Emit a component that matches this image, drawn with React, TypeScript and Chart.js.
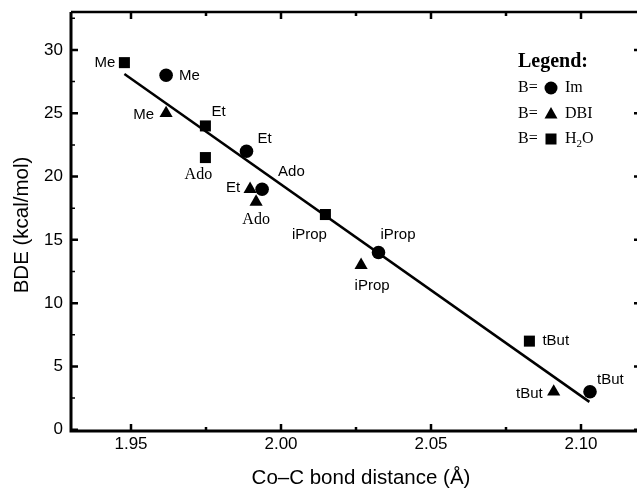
import React, { useEffect, useRef } from 'react';
import { Chart, registerables } from 'chart.js';
Chart.register(...registerables);

// ---- data ----
const pointNames = ['Me', 'Et', 'Ado', 'iProp', 'tBut'];
const imX = [1.9617, 1.9885, 1.9937, 2.0325, 2.103];
const imY = [28, 22, 19, 14, 3];
const dbiX = [1.9617, 1.9897, 1.9917, 2.0267, 2.0909];
const dbiY = [25, 19, 18, 13, 3];
const h2oX = [1.9478, 1.9748, 1.9748, 2.0148, 2.0828];
const h2oY = [29, 24, 21.5, 17, 7];
const fitX = [1.9478, 2.1028];
const fitY = [28.1, 2.2];
const xTicks = [1.95, 2.0, 2.05, 2.1];
const xMinorTicks = [1.975, 2.025, 2.075];
const yTicks = [0, 5, 10, 15, 20, 25, 30];
const yMinorTicks = [2.5, 7.5, 12.5, 17.5, 22.5, 27.5, 32.5];
const xTitle = 'Co–C bond distance (Å)';
const yTitle = 'BDE (kcal/mol)';
const legendTitle = 'Legend:';
const legendPrefix = 'B=';

// ---- label placement (style) ----
type Place = { dx: number; dy: number; align: CanvasTextAlign; serif?: boolean };
const imPlace: Place[] = [
  { dx: 13, dy: 1, align: 'left' },
  { dx: 11, dy: -12, align: 'left' },
  { dx: 16, dy: -17, align: 'left' },
  { dx: 2, dy: -18, align: 'left' },
  { dx: 7, dy: -12, align: 'left' },
];
const dbiPlace: Place[] = [
  { dx: -12, dy: 2, align: 'right' },
  { dx: -10, dy: -1, align: 'right' },
  { dx: 0, dy: 18, align: 'center', serif: true },
  { dx: 11, dy: 21, align: 'center' },
  { dx: -11, dy: 2, align: 'right' },
];
const h2oPlace: Place[] = [
  { dx: -9, dy: 0, align: 'right' },
  { dx: 6, dy: -14, align: 'left' },
  { dx: -7, dy: 17, align: 'center', serif: true },
  { dx: -16, dy: 20, align: 'center' },
  { dx: 13, dy: 0, align: 'left' },
];

const SANS = '"Liberation Sans", Arial, sans-serif';
const SERIF = '"Liberation Serif", "Times New Roman", serif';

const toPts = (xs: number[], ys: number[]) => xs.map((x, i) => ({ x, y: ys[i] }));

const decorPlugin = {
  id: 'decor',
  afterDraw(chart: any) {
    const { ctx, chartArea, scales } = chart;
    const { left, right, top, bottom } = chartArea;
    const xs = scales.x;
    const ys = scales.y;
    ctx.save();
    ctx.strokeStyle = '#000';
    ctx.fillStyle = '#000';
    // frame
    ctx.lineWidth = 3;
    ctx.beginPath();
    ctx.moveTo(left, top);
    ctx.lineTo(left, bottom);
    ctx.lineTo(right, bottom);
    ctx.stroke();
    ctx.lineWidth = 2.5;
    ctx.beginPath();
    ctx.moveTo(left, top);
    ctx.lineTo(right, top);
    ctx.lineTo(right, bottom);
    ctx.stroke();
    // ticks
    ctx.lineWidth = 2.5;
    const vt = (v: number, len: number) => {
      const px = xs.getPixelForValue(v);
      ctx.beginPath();
      ctx.moveTo(px, bottom);
      ctx.lineTo(px, bottom - len);
      ctx.moveTo(px, top);
      ctx.lineTo(px, top + len);
      ctx.stroke();
    };
    const ht = (v: number, len: number) => {
      const py = ys.getPixelForValue(v);
      ctx.beginPath();
      ctx.moveTo(left, py);
      ctx.lineTo(left + len, py);
      ctx.moveTo(right, py);
      ctx.lineTo(right - len, py);
      ctx.stroke();
    };
    xTicks.forEach((v) => vt(v, 7));
    xMinorTicks.forEach((v) => vt(v, 4));
    yTicks.forEach((v) => ht(v, 7));
    ctx.lineWidth = 1.5;
    yMinorTicks.forEach((v) => ht(v, 4));

    // axis titles
    ctx.textBaseline = 'middle';
    ctx.textAlign = 'center';
    ctx.font = `20.5px ${SANS}`;
    ctx.fillText(xTitle, 361, 478);
    ctx.save();
    ctx.translate(22.5, 225);
    ctx.rotate(-Math.PI / 2);
    ctx.fillText(yTitle, 0, 0);
    ctx.restore();

    // point labels
    const drawLabels = (xv: number[], yv: number[], places: Place[]) => {
      xv.forEach((x, i) => {
        const p = places[i];
        const px = xs.getPixelForValue(x) + p.dx;
        const py = ys.getPixelForValue(yv[i]) + p.dy;
        ctx.font = p.serif ? `16px ${SERIF}` : `15px ${SANS}`;
        ctx.textAlign = p.align;
        ctx.fillText(pointNames[i], px, py);
      });
    };
    drawLabels(imX, imY, imPlace);
    drawLabels(dbiX, dbiY, dbiPlace);
    drawLabels(h2oX, h2oY, h2oPlace);

    // legend
    const lx = 518;
    ctx.textAlign = 'left';
    ctx.font = `bold 20px ${SERIF}`;
    ctx.fillText(legendTitle, lx, 62);
    const rows = [88, 114, 139];
    const mx = 551;
    const tx = 565;
    ctx.font = `16px ${SERIF}`;
    rows.forEach((ry) => ctx.fillText(legendPrefix, lx, ry));
    // circle
    ctx.beginPath();
    ctx.arc(mx, rows[0], 6.5, 0, Math.PI * 2);
    ctx.fill();
    // triangle
    ctx.beginPath();
    ctx.moveTo(mx, rows[1] - 7);
    ctx.lineTo(mx + 6.5, rows[1] + 4.5);
    ctx.lineTo(mx - 6.5, rows[1] + 4.5);
    ctx.closePath();
    ctx.fill();
    // square
    ctx.fillRect(mx - 5.5, rows[2] - 5.5, 11, 11);
    ctx.font = `16px ${SERIF}`;
    ctx.fillText('Im', tx, rows[0]);
    ctx.fillText('DBI', tx, rows[1]);
    ctx.fillText('H', tx, rows[2]);
    const hw = ctx.measureText('H').width;
    ctx.font = `11px ${SERIF}`;
    ctx.fillText('2', tx + hw, rows[2] + 5);
    const sw = ctx.measureText('2').width;
    ctx.font = `16px ${SERIF}`;
    ctx.fillText('O', tx + hw + sw, rows[2]);
    ctx.restore();
  },
};

const CW = 645;
const CH = 489;

export default function App() {
  const ref = useRef<HTMLCanvasElement | null>(null);
  useEffect(() => {
    document.body.style.margin = '0';
    if (!ref.current) return;
    const chart = new Chart(ref.current, {
      type: 'scatter',
      data: {
        datasets: [
          {
            label: 'Im',
            data: toPts(imX, imY),
            pointStyle: 'circle',
            pointRadius: 6.8,
            backgroundColor: '#000',
            borderColor: '#000',
            borderWidth: 0,
            order: 1,
          },
          {
            label: 'DBI',
            data: toPts(dbiX, dbiY),
            pointStyle: 'triangle',
            pointRadius: 7.6,
            backgroundColor: '#000',
            borderColor: '#000',
            borderWidth: 0,
            order: 1,
          },
          {
            label: 'H2O',
            data: toPts(h2oX, h2oY),
            pointStyle: 'rect',
            pointRadius: 7.8,
            backgroundColor: '#000',
            borderColor: '#000',
            borderWidth: 0,
            order: 1,
          },
          {
            type: 'line',
            label: 'fit',
            data: toPts(fitX, fitY),
            borderColor: '#000',
            borderWidth: 2.5,
            pointRadius: 0,
            showLine: true,
            fill: false,
            order: 5,
          } as any,
        ],
      },
      options: {
        responsive: false,
        animation: false,
        layout: { autoPadding: false, padding: { left: 0, right: 4, top: 12, bottom: 0 } },
        plugins: { legend: { display: false }, tooltip: { enabled: false } },
        scales: {
          x: {
            type: 'linear',
            min: 1.93,
            max: 2.12,
            grid: { display: false, drawTicks: false },
            border: { display: false },
            afterBuildTicks: (s: any) => {
              s.ticks = xTicks.map((v) => ({ value: v }));
            },
            afterFit: (s: any) => {
              s.height = 58;
              s.paddingLeft = 0;
              s.paddingRight = 0;
            },
            ticks: {
              padding: 3,
              color: '#000',
              font: { family: SANS, size: 17 },
              maxRotation: 0,
              callback: (v: any) => Number(v).toFixed(2),
            },
            title: { display: false },
          },
          y: {
            type: 'linear',
            min: -0.1,
            max: 33,
            grid: { display: false, drawTicks: false },
            border: { display: false },
            afterBuildTicks: (s: any) => {
              s.ticks = yTicks.map((v) => ({ value: v }));
            },
            afterFit: (s: any) => {
              s.width = 71;
              s.paddingTop = 0;
              s.paddingBottom = 0;
            },
            ticks: {
              padding: 8,
              color: '#000',
              font: { family: SANS, size: 17 },
              callback: (v: any) => String(v),
            },
            title: { display: false },
          },
        },
      },
      plugins: [decorPlugin],
    });
    return () => chart.destroy();
  }, []);
  return (
    <div style={{ width: 637, height: CH, overflow: 'hidden', background: '#fff' }}>
      <canvas ref={ref} width={CW} height={CH} style={{ width: CW, height: CH, display: 'block' }} />
    </div>
  );
}
